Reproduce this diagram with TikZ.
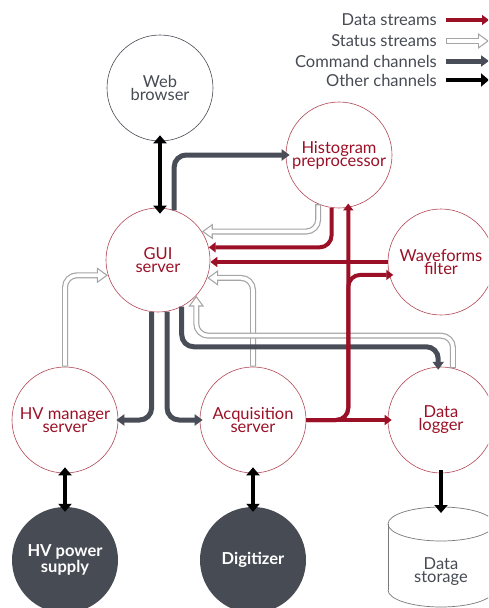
\documentclass[tikz,border=0pt]{standalone}
\usepackage{fontspec}
\setmainfont{Lato}
\usetikzlibrary{arrows.meta,calc}
\definecolor{dred}{RGB}{155,16,38}
\definecolor{ringred}{RGB}{178,70,85}
\definecolor{cmdgray}{RGB}{72,77,87}
\definecolor{fillgray}{RGB}{71,75,84}
\definecolor{stgray}{RGB}{165,165,165}
\definecolor{txtgray}{RGB}{70,74,82}
\definecolor{cylgray}{RGB}{120,120,120}
\newcommand\statpath[1]{\draw[statA] #1; \draw[statB] #1;}
\begin{document}
\begin{tikzpicture}[x=1pt,y=-1pt,
  every node/.style={font=\fontsize{16.5}{13}\selectfont, align=center, inner sep=0pt},
  redc/.style={circle, draw=ringred, line width=0.6pt, minimum size=106pt, text=dred},
  grayc/.style={circle, draw=txtgray, line width=0.6pt, minimum size=106pt, text=txtgray},
  darkc/.style={circle, fill=fillgray, minimum size=106pt, text=white, font=\fontsize{16.5}{13}\selectfont\bfseries},
  legtext/.style={anchor=east, text=txtgray, font=\fontsize{16.5}{16}\selectfont},
  datal/.style={draw=dred, line width=4pt, rounded corners=12pt, -{Triangle[length=7pt,width=10pt]}},
  cmdl/.style={draw=cmdgray, line width=5pt, rounded corners=12pt, -{Triangle[length=8pt,width=11pt]}},
  othl/.style={draw=black, line width=4.5pt, {Triangle[length=8pt,width=13pt]}-{Triangle[length=8pt,width=13pt]}},
  othone/.style={draw=black, line width=4.5pt, -{Triangle[length=8pt,width=13pt]}},
  statA/.style={draw=stgray, line width=6pt, rounded corners=12pt, -{Triangle[length=11pt,width=15pt]}},
  statB/.style={draw=white, line width=3.6pt, rounded corners=12pt, shorten <=1.2pt, shorten >=2.1pt, -{Triangle[length=7.7pt,width=10.5pt]}},
  into/.style={shorten >=-4pt},
  cylc/.style={draw=cylgray, line width=0.7pt},
]
\useasboundingbox (0,0) rectangle (488,608);
\clip (0,0) rectangle (488,608);

% nodes
\node[grayc] (web) at (160,88) {Web\\browser};
\node[redc] (hist) at (339,155) {Histogram\\preprocessor};
\node[redc, minimum size=104pt] (gui) at (158,260) {GUI\\server};
\node[redc] (wave) at (441,262) {Waveforms\\filter};
\node[redc] (hvm) at (65,420) {HV manager\\server};
\node[redc] (acq) at (253,420) {Acquisition\\server};
\node[redc] (log) at (441,420) {Data\\logger};
\node[darkc] (hvps) at (65,560) {HV power\\supply};
\node[darkc] (dig) at (253,560) {Digitizer};

% storage cylinder
\draw[cylc] (441,524) ellipse [x radius=53, y radius=17];
\draw[cylc] (388,524) -- (388,590) (494,524) -- (494,590);
\begin{scope}
  \clip (380,590) rectangle (500,615);
  \draw[cylc] (441,590) ellipse [x radius=53, y radius=17];
\end{scope}
\coordinate (stop) at (441,507);
\node[text=txtgray] (storage) at (441,572) {Data\\storage};

% status streams
\statpath{(acq.north) |- (gui.340)}
\statpath{(log.77) |- ($(gui.317)+(0,40)$) -- (gui.317)}
\statpath{(hvm.north) |- (gui.197)}
\statpath{(hist.247) |- (gui.33)}

% command channels
\draw[cmdl, into] (gui.72) |- (hist.west);
\draw[cmdl, shorten >=-2pt] (gui.263) |- (hvm.east);
\draw[cmdl, shorten >=-3pt] (gui.280) |- (acq.west);
\draw[cmdl, shorten >=-3pt] (gui.297) |- ($(log.93)+(0,-20)$) -- (log.93);

% data streams
\draw[datal] (hist.262) |- (gui.14);
\draw[datal] (wave.west) -- (wave.west -| gui.east);
\draw[datal, into] (acq.east) -| (hist.280);
\draw[datal, into] (acq.east) -| (hist.280 |- wave.194) -- (wave.194);
\draw[datal, into] (acq.east) -- (log.west);

% other channels
\draw[othl, shorten <=-6pt, shorten >=-6pt] (web.south) -- (web.south |- gui.north);
\draw[othl, shorten <=-6pt, shorten >=-5pt] (hvm.south) -- (hvps.north);
\draw[othl, shorten <=-6pt, shorten >=-5pt] (acq.south) -- (dig.north);
\draw[othone, shorten <=-3pt, shorten >=-6pt] (log.south) -- (stop);

% legend
\node[legtext] (lg1) at (437,20) {Data streams};
\node[legtext] (lg2) at (437,41) {Status streams};
\node[legtext] (lg3) at (437,61) {Command channels};
\node[legtext] (lg4) at (437,80) {Other channels};
\coordinate (la1) at (446,20); \coordinate (lb1) at (489,20);
\coordinate (la2) at (446,41); \coordinate (lb2) at (489,41);
\coordinate (la3) at (446,61); \coordinate (lb3) at (489,61);
\coordinate (la4) at (446,80); \coordinate (lb4) at (489,80);
\draw[datal] (la1) -- (lb1);
\statpath{(la2) -- (lb2)}
\draw[cmdl] (la3) -- (lb3);
\draw[othone] (la4) -- (lb4);
\end{tikzpicture}
\end{document}
